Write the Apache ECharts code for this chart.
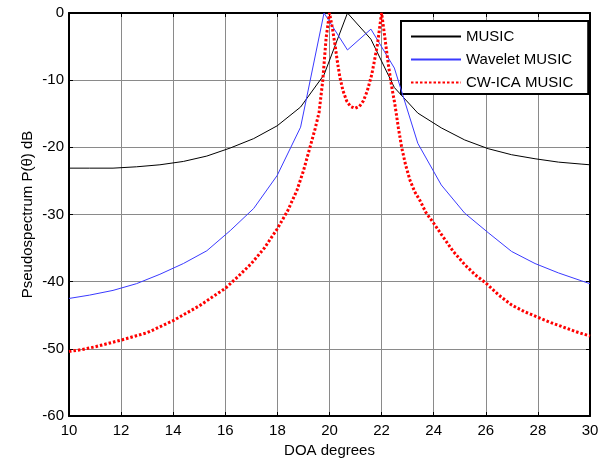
<!DOCTYPE html>
<html>
<head>
<meta charset="utf-8">
<script src="https://cdn.jsdelivr.net/npm/echarts@6/dist/echarts.min.js"></script>
<style>
html,body{margin:0;padding:0;background:#fff;}
#c{width:608px;height:463px;}
</style>
</head>
<body>
<div id="c"></div>
<script>
// Shared angle grid for MUSIC and Wavelet MUSIC (degrees)
var gridX = [10, 10.79, 11.69, 12.59, 13.49, 14.39, 15.29, 16.19, 17.09, 17.99, 18.89, 19.79, 20.69, 21.59, 22.49, 23.39, 24.29, 25.19, 26.09, 26.99, 27.89, 28.79, 29.69, 30];
var musicY = [-23.1, -23.1, -23.1, -22.9, -22.6, -22.1, -21.3, -20.1, -18.7, -16.8, -14.0, -9.2, 0, -3.9, -11.1, -14.9, -17.1, -18.9, -20.2, -21.1, -21.7, -22.2, -22.5, -22.6];
var waveletY = [-42.5, -42.0, -41.3, -40.3, -38.9, -37.3, -35.4, -32.4, -29.1, -24.2, -17.0, 0, -5.5, -2.4, -8.2, -19.4, -25.6, -29.8, -32.7, -35.5, -37.3, -38.7, -39.9, -40.3];
// CW-ICA MUSIC
var cwX = [10, 10.5, 11, 12, 13, 14, 15, 15.5, 16, 16.5, 17, 17.5, 18, 18.4, 18.75, 19, 19.25, 19.45, 19.6, 19.74, 19.87, 20, 20.1, 20.21, 20.3, 20.4, 20.52, 20.66, 20.8, 20.98, 21.15, 21.3, 21.45, 21.62, 21.72, 21.84, 21.92, 22, 22.13, 22.26, 22.38, 22.51, 22.64, 22.77, 22.92, 23.09, 23.27, 23.47, 23.7, 24, 24.3, 24.75, 25.2, 25.6, 26, 26.5, 27, 27.5, 28, 28.5, 29, 29.5, 30];
var cwY = [-50.4, -50.1, -49.7, -48.7, -47.6, -45.8, -43.6, -42.3, -41.0, -39.2, -37.3, -35.0, -32.1, -29.4, -26.4, -23.5, -20.0, -17.2, -14.8, -10.1, -3.7, 0, -2.0, -4.7, -7.2, -9.6, -11.6, -13.1, -13.9, -14.2, -13.9, -13.1, -11.6, -9.2, -7.2, -4.7, -2.3, 0, -3.8, -7.7, -10.8, -13.6, -17.0, -20.0, -22.6, -24.9, -26.6, -27.9, -29.7, -31.3, -33.0, -35.5, -37.5, -39.0, -40.2, -42.0, -43.5, -44.5, -45.3, -46.1, -46.8, -47.5, -48.1];
var seriesNames = ['MUSIC', 'Wavelet MUSIC', 'CW-ICA MUSIC'];
var xTitle = 'DOA degrees';
var yTitle = 'Pseudospectrum P(\u03B8) dB';

function pairs(xs, ys) { return xs.map(function (x, i) { return [x, ys[i]]; }); }

var FONT = 'Liberation Sans, Arial, sans-serif';
var chart = echarts.init(document.getElementById('c'), null, { renderer: 'canvas' });

function xAxisBase(pos, show) {
  return {
    type: 'value', position: pos, min: 10, max: 30, interval: 2,
    axisLine: { show: true, onZero: false, lineStyle: { color: '#000', width: 2 } },
    axisTick: { show: true, inside: true, length: 4, lineStyle: { color: '#000', width: 1 } },
    axisLabel: { show: show, color: '#000', fontFamily: FONT, fontSize: 15, margin: 7 },
    splitLine: { show: show, lineStyle: { color: '#8a8a8a', width: 1 } }
  };
}
function yAxisBase(pos, show) {
  return {
    type: 'value', position: pos, min: -60, max: 0, interval: 10,
    axisLine: { show: true, onZero: false, lineStyle: { color: '#000', width: 2 } },
    axisTick: { show: true, inside: true, length: 4, lineStyle: { color: '#000', width: 1 } },
    axisLabel: { show: show, color: '#000', fontFamily: FONT, fontSize: 15, margin: 5 },
    splitLine: { show: show, lineStyle: { color: '#8a8a8a', width: 1 } }
  };
}
var xb = xAxisBase('bottom', true);
xb.name = xTitle; xb.nameLocation = 'middle'; xb.nameGap = 27; xb.nameMoveOverlap = false;
xb.nameTextStyle = { color: '#000', fontFamily: FONT, fontSize: 15 };
var yl = yAxisBase('left', true);
yl.name = yTitle; yl.nameLocation = 'middle'; yl.nameGap = 34; yl.nameMoveOverlap = false;
yl.nameTextStyle = { color: '#000', fontFamily: FONT, fontSize: 15 };

chart.setOption({
  animation: false,
  backgroundColor: '#fff',
  grid: { left: 69, top: 13, right: 18, bottom: 44, containLabel: false },
  xAxis: [xb, xAxisBase('top', false)],
  yAxis: [yl, yAxisBase('right', false)],
  legend: {
    orient: 'vertical', left: 401, top: 21,
    backgroundColor: '#fff', borderColor: '#000', borderWidth: 2,
    padding: [8, 15, 4, 9], itemWidth: 50, itemHeight: 14, itemGap: 8,
    itemStyle: { opacity: 0 },
    textStyle: { color: '#000', fontFamily: FONT, fontSize: 15 },
    data: seriesNames
  },
  series: [
    { name: seriesNames[0], type: 'line', symbol: 'none', z: 3,
      lineStyle: { color: '#000', width: 1 }, itemStyle: { color: '#000' },
      data: pairs(gridX, musicY) },
    { name: seriesNames[1], type: 'line', symbol: 'none', z: 4,
      lineStyle: { color: '#3a3aff', width: 1 }, itemStyle: { color: '#3a3aff' },
      data: pairs(gridX, waveletY) },
    { name: seriesNames[2], type: 'line', symbol: 'none', z: 5,
      lineStyle: { color: '#ff0000', width: 3, type: [2.5, 2] }, itemStyle: { color: '#ff0000' },
      data: pairs(cwX, cwY) }
  ]
});
</script>
</body>
</html>
